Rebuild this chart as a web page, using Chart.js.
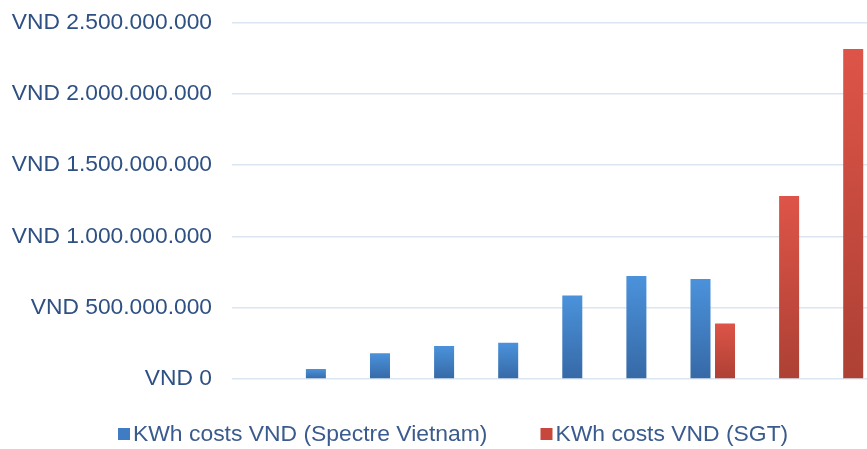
<!DOCTYPE html>
<html>
<head>
<meta charset="utf-8">
<title>KWh costs VND</title>
<script src="https://cdn.jsdelivr.net/npm/chart.js@4.4.1/dist/chart.umd.min.js"></script>
<style>
  html, body { margin: 0; padding: 0; background: #ffffff; overflow: hidden; }
  #wrap { width: 873px; height: 449px; overflow: hidden; }
  #chart { display: block; margin-top: -11px; }
</style>
</head>
<body>
<div id="wrap"><canvas id="chart" width="873" height="460"></canvas></div>
<script>
// Periods along the x axis (not labelled on the chart)
const categories = ['P0', 'P1', 'P2', 'P3', 'P4', 'P5', 'P6', 'P7', 'P8', 'P9'];

// KWh costs in VND per period
const spectreCosts = [null, 70000000, 180000000, 231000000, 254000000, 586000000, 723000000, 702000000, null, null];
const sgtCosts     = [null, null, null, null, null, null, null, 390000000, 1284000000, 2316000000];

const seriesLabels = ['KWh costs VND (Spectre Vietnam)', 'KWh costs VND (SGT)'];

// Value axis ticks
const tickValues = [0, 500000000, 1000000000, 1500000000, 2000000000, 2500000000];

const FONT = '"Liberation Sans", Arial, Helvetica, sans-serif';

function formatVnd(v) {
  return 'VND ' + String(Math.round(v)).replace(/\B(?=(\d{3})+(?!\d))/g, '.');
}

// Vertical gradient running from the top of each bar down to the zero line
function barFill(topColor, bottomColor) {
  return (ctx) => {
    const chart = ctx.chart;
    const yScale = chart.scales && chart.scales.y;
    if (!chart.chartArea || !yScale || !ctx.parsed || ctx.parsed.y == null) return bottomColor;
    const yTop = yScale.getPixelForValue(ctx.parsed.y);
    const yBase = yScale.getPixelForValue(0);
    if (!isFinite(yTop) || !isFinite(yBase) || yTop === yBase) return bottomColor;
    const g = chart.ctx.createLinearGradient(0, yTop, 0, yBase);
    g.addColorStop(0, topColor);
    g.addColorStop(1, bottomColor);
    return g;
  };
}

// Single-row legend below the plot: square swatch followed by the series name
const rowLegend = {
  id: 'rowLegend',
  afterDraw(chart, args, opts) {
    const c = chart.ctx;
    c.save();
    c.font = opts.size + 'px ' + FONT;
    c.textBaseline = 'middle';
    c.textAlign = 'left';
    let x = opts.left;
    chart.data.datasets.forEach((ds, i) => {
      c.fillStyle = opts.swatches[i];
      c.fillRect(x, opts.y - opts.box / 2, opts.box, opts.box);
      x += opts.box + opts.gap;
      c.fillStyle = opts.color;
      c.fillText(ds.label, x, opts.y + 1);
      x += c.measureText(ds.label).width + opts.spacing;
    });
    c.restore();
  }
};

new Chart(document.getElementById('chart'), {
  type: 'bar',
  data: {
    labels: categories,
    datasets: [
      {
        label: seriesLabels[0],
        data: spectreCosts,
        backgroundColor: barFill('#4b92db', '#3669a6'),
        borderWidth: 0,
        categoryPercentage: 0.765,
        barPercentage: 0.816
      },
      {
        label: seriesLabels[1],
        data: sgtCosts,
        backgroundColor: barFill('#de5448', '#ad4034'),
        borderWidth: 0,
        categoryPercentage: 0.765,
        barPercentage: 0.816
      }
    ]
  },
  options: {
    responsive: false,
    animation: false,
    events: [],
    layout: { padding: { top: 11, right: 0, bottom: 0, left: 0 } },
    plugins: {
      legend: { display: false },
      tooltip: { enabled: false },
      rowLegend: {
        left: 118,
        y: 445,
        box: 12,
        gap: 3,
        spacing: 53,
        size: 22.9,
        color: '#3a5b8d',
        swatches: ['#3f7cc4', '#c8473c']
      }
    },
    scales: {
      x: {
        grid: { display: false },
        border: { display: false },
        ticks: { display: false },
        afterFit(scale) { scale.height = 70; }
      },
      y: {
        min: 0,
        max: 2500000000,
        afterBuildTicks(scale) { scale.ticks = tickValues.map(v => ({ value: v })); },
        afterFit(scale) { scale.width = 232; },
        grid: { color: '#dce6f3', lineWidth: 1.5, drawTicks: false },
        border: { display: false },
        ticks: {
          padding: 20,
          color: '#2e5083',
          font: { family: FONT, size: 22.8 },
          callback: (v) => formatVnd(v)
        }
      }
    }
  },
  plugins: [rowLegend]
});
</script>
</body>
</html>
